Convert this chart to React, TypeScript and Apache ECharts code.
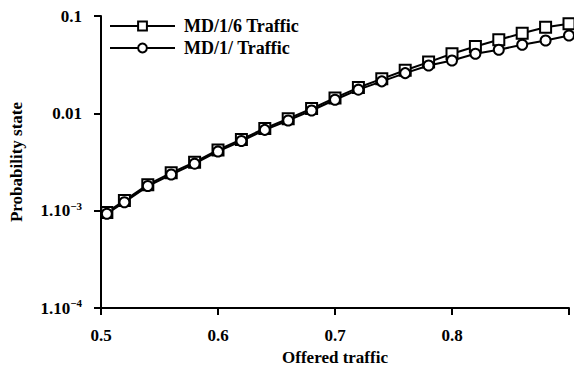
import React, { useEffect, useRef } from "react";
import * as echarts from "echarts";

// Offered traffic (load) at each computed point
const traffic = [0.505, 0.52, 0.54, 0.56, 0.58, 0.6, 0.62, 0.64, 0.66, 0.68, 0.7, 0.72, 0.74, 0.76, 0.78, 0.8, 0.82, 0.84, 0.86, 0.88, 0.9];

// State probability, MD/1/6 traffic model
const md16 = [9.6e-4, 1.27e-3, 1.85e-3, 2.45e-3, 3.15e-3, 4.2e-3, 5.4e-3, 7.0e-3, 8.8e-3, 0.0112, 0.0144, 0.0184, 0.0226, 0.0277, 0.0336, 0.0409, 0.0486, 0.057, 0.0666, 0.0767, 0.0832];

// State probability, MD/1 traffic model
const md1 = [9.3e-4, 1.22e-3, 1.79e-3, 2.35e-3, 3.04e-3, 4.06e-3, 5.19e-3, 6.76e-3, 8.45e-3, 0.0107, 0.0138, 0.0175, 0.0213, 0.0259, 0.031, 0.0349, 0.0409, 0.045, 0.0506, 0.056, 0.0631];

const seriesNames = ["MD/1/6 Traffic", "MD/1/ Traffic"];
const xTickLabels = ["0.5", "0.6", "0.7", "0.8", ""];
const yTickLabels: Record<string, string> = {
  "0.1": "0.1",
  "0.01": "0.01",
  "0.001": "1.10{sup|−3}",
  "0.0001": "1.10{sup|−4}",
};

const FONT = "'Liberation Serif', 'Times New Roman', serif";

export default function App() {
  const ref = useRef<HTMLDivElement>(null);

  useEffect(() => {
    if (!ref.current) return;
    const chart = echarts.init(ref.current, undefined, { renderer: "svg" });
    const pair = (ys: number[]) => traffic.map((x, i) => [x, ys[i]]);
    const lineSeries = (name: string, symbol: string, ys: number[]) => ({
      name,
      type: "line",
      data: pair(ys),
      symbol,
      symbolSize: symbol === "rect" ? 11 : 10,
      showAllSymbol: true,
      lineStyle: { color: "#000", width: 2 },
      itemStyle: { color: "#fff", borderColor: "#000", borderWidth: 2 },
    });

    const textBase = { fontFamily: FONT, fontWeight: "bold", color: "#000" };

    chart.setOption({
      animation: false,
      backgroundColor: "#fff",
      textStyle: { fontFamily: FONT },
      grid: { left: 101, right: 5, top: 16, bottom: 65 },
      legend: {
        orient: "vertical",
        left: 104,
        top: 12,
        itemWidth: 65,
        itemHeight: 11,
        itemGap: 4,
        data: seriesNames,
        textStyle: { ...textBase, fontSize: 18, padding: [0, 0, 0, 4] },
      },
      xAxis: {
        type: "value",
        min: 0.5,
        max: 0.9,
        interval: 0.1,
        name: "Offered traffic",
        nameLocation: "middle",
        nameGap: 41,
        nameTextStyle: { ...textBase, fontSize: 17 },
        axisLine: { lineStyle: { color: "#000", width: 2 } },
        axisTick: { show: true, inside: false, length: 7, lineStyle: { color: "#000", width: 2 } },
        axisLabel: {
          ...textBase,
          margin: 19,
          fontSize: 17,
          formatter: (v: number) => xTickLabels[Math.round((v - 0.5) * 10)] ?? "",
        },
        splitLine: { show: false },
      },
      yAxis: {
        type: "log",
        logBase: 10,
        min: 1e-4,
        max: 0.1,
        name: "Probability state",
        nameLocation: "middle",
        nameGap: 76,
        nameTextStyle: { ...textBase, fontSize: 17 },
        axisLine: { show: true, lineStyle: { color: "#000", width: 2 } },
        axisTick: { show: true, inside: false, length: 7, lineStyle: { color: "#000", width: 2 } },
        axisLabel: {
          ...textBase,
          margin: 19,
          fontSize: 17,
          formatter: (v: number) => {
            const key = String(Number(v.toPrecision(3)));
            return yTickLabels[key] ?? "";
          },
          rich: {
            sup: {
              ...textBase,
              fontSize: 11,
              verticalAlign: "top",
              padding: [0, 0, 10, 0],
            },
          },
        },
        splitLine: { show: false },
      },
      series: [lineSeries(seriesNames[0], "rect", md16), lineSeries(seriesNames[1], "circle", md1)],
    });
    return () => chart.dispose();
  }, []);

  return (
    <div
      ref={ref}
      style={{ position: "absolute", left: 0, top: 0, width: 574, height: 373, background: "#fff" }}
    />
  );
}
